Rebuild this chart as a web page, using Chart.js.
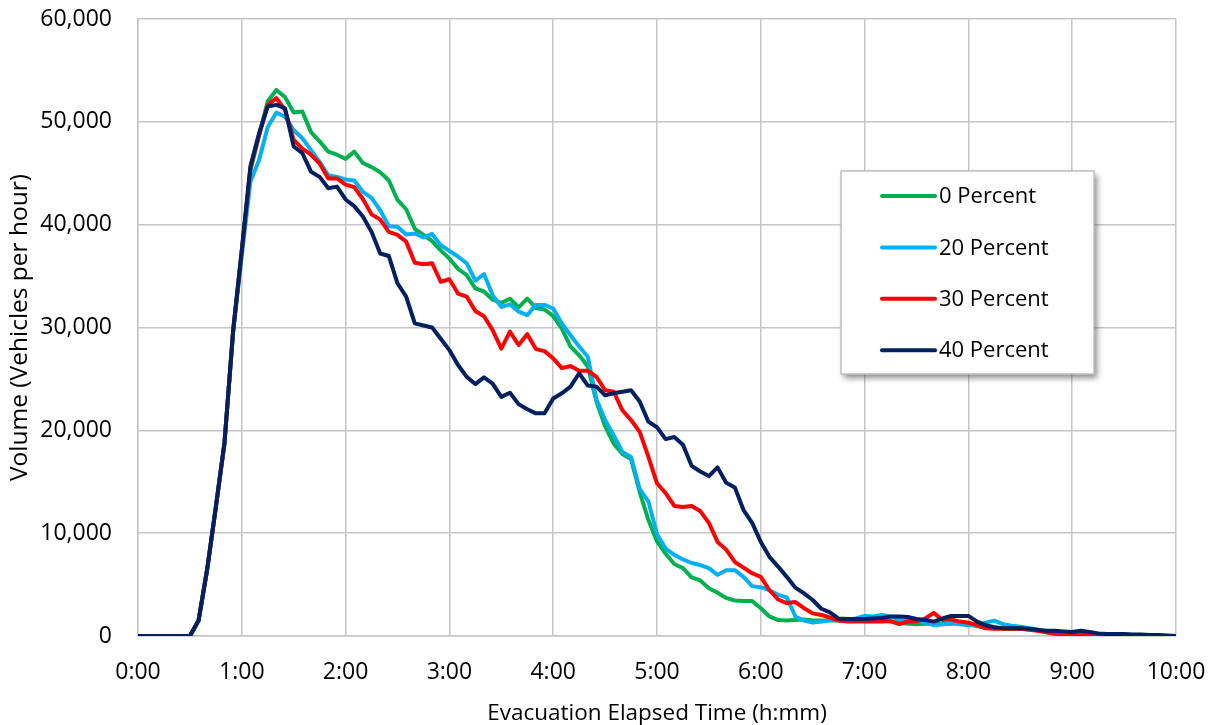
<!DOCTYPE html>
<html>
<head>
<meta charset="utf-8">
<title>Evacuation volume</title>
<script src="https://cdn.jsdelivr.net/npm/chart.js@4.4.1/dist/chart.umd.min.js"></script>
<style>
  html, body { margin: 0; padding: 0; background: #ffffff; }
  #wrap { width: 1211px; height: 725px; position: relative; }
</style>
</head>
<body>
<div id="wrap"><canvas id="grafico"></canvas></div>
<script>
// valores cada 5 minutos, una fila por hora (0:00 ... 9:55, 10:00)
var STEP_MIN = 5;

var seriesNames = ['0 Percent', '20 Percent', '30 Percent', '40 Percent'];
var seriesColors = ['#00B050', '#00B0F0', '#FF0000', '#002060'];

var pct0 = [
  0, 0, 0, 0, 0, 0, 0, 1500, 6500, 12500, 18800, 29700,
  37500, 45300, 48700, 52000, 53100, 52400, 50900, 51000, 49000, 48100, 47100, 46800,
  46400, 47100, 46000, 45600, 45100, 44300, 42400, 41500, 39600, 39000, 38400, 37500,
  36700, 35700, 35100, 33800, 33500, 32700, 32400, 32800, 31950, 32800, 31900, 31750,
  31100, 29900, 28150, 27300, 26200, 22800, 20400, 18700, 17700, 17200, 14000, 11300,
  9200, 8000, 7000, 6600, 5700, 5400, 4650, 4200, 3700, 3450, 3400, 3400,
  2700, 1900, 1550, 1500, 1550, 1600, 1500, 1500, 1500, 1500, 1450, 1500,
  1500, 1550, 1500, 1400, 1300, 1200, 1150, 1200, 1200, 1150, 1200, 1300,
  1200, 950, 850, 800, 750, 700, 700, 650, 550, 400, 300, 200,
  100, 50
];

var pct20 = [
  0, 0, 0, 0, 0, 0, 0, 1500, 6500, 12500, 18800, 29500,
  37000, 44200, 46300, 49500, 50900, 50500, 49200, 48400, 47250, 46100, 44800, 44650,
  44400, 44300, 43200, 42600, 41400, 39850, 39800, 39050, 39150, 38750, 39100, 38000,
  37450, 36900, 36250, 34550, 35200, 33150, 32000, 32250, 31550, 31200, 32200, 32200,
  31850, 30400, 29250, 28150, 27150, 23000, 21000, 19500, 17900, 17400, 14300, 13100,
  9900, 8500, 7900, 7450, 7100, 6900, 6600, 5950, 6400, 6400, 5750, 4850,
  4750, 4450, 4000, 3750, 1900, 1500, 1300, 1400, 1550, 1600, 1600, 1700,
  1950, 1900, 2050, 1900, 1600, 1500, 1400, 1300, 1050, 1150, 1250, 1150,
  1050, 1050, 1300, 1500, 1150, 1000, 900, 750, 600, 400, 200, 100,
  0
];

var pct30 = [
  0, 0, 0, 0, 0, 0, 0, 1500, 6500, 12500, 18800, 29700,
  37500, 45500, 48700, 51650, 52300, 51150, 48250, 47400, 46800, 45950, 44500, 44500,
  43900, 43650, 42500, 41000, 40500, 39300, 39000, 38350, 36300, 36150, 36250, 34450,
  34700, 33300, 33000, 31600, 31100, 29750, 27950, 29600, 28300, 29350, 27900, 27700,
  27000, 26050, 26250, 25800, 25800, 25200, 23900, 23750, 21950, 21000, 19850, 17450,
  14850, 13900, 12650, 12550, 12650, 12150, 11000, 9150, 8400, 7200, 6650, 6100,
  5750, 4450, 3550, 3200, 3300, 2700, 2200, 2050, 1800, 1500, 1400, 1400,
  1400, 1400, 1400, 1450, 1150, 1400, 1400, 1700, 2250, 1550, 1600, 1400,
  1300, 1050, 750, 700, 700, 700, 700, 600, 500, 350, 250, 150,
  100, 150, 150, 100, 50, 50, 0
];

var pct40 = [
  0, 0, 0, 0, 0, 0, 0, 1500, 6500, 12600, 18800, 29700,
  37500, 45700, 48900, 51500, 51650, 51300, 47600, 46950, 45150, 44650, 43550, 43700,
  42450, 41800, 40800, 39300, 37200, 36950, 34300, 33000, 30400, 30200, 30000, 28900,
  27800, 26350, 25200, 24500, 25150, 24550, 23250, 23650, 22550, 22050, 21650, 21650,
  23100, 23600, 24250, 25550, 24350, 24250, 23400, 23600, 23750, 23900, 22800, 20850,
  20300, 19150, 19350, 18600, 16550, 16000, 15550, 16400, 14900, 14450, 12250, 11000,
  9150, 7700, 6750, 5750, 4700, 4150, 3500, 2650, 2300, 1700, 1650, 1650,
  1650, 1700, 1750, 1900, 1900, 1850, 1650, 1550, 1400, 1700, 1950, 1950,
  1950, 1400, 1050, 850, 750, 750, 750, 700, 600, 500, 500, 450,
  400, 500, 400, 250, 200, 200, 200, 150, 150, 100, 100, 50,
  0
];

var allSeries = [pct0, pct20, pct30, pct40];

var xTicksMin = [0, 60, 120, 180, 240, 300, 360, 420, 480, 540, 600];
var yTicks = [0, 10000, 20000, 30000, 40000, 50000, 60000];

var fuente = "'Open Sans', 'Liberation Sans', sans-serif";
var gris = '#C6C6C6';

function hmm(min) {
  var h = Math.floor(min / 60);
  var m = min % 60;
  return h + ':' + (m < 10 ? '0' : '') + m;
}

// leyenda dentro del area del grafico, con sombra
var leyendaPlugin = {
  id: 'leyendaCaja',
  afterDraw: function (chart) {
    var ctx = chart.ctx;
    var x = 841, y = 171, w = 253, h = 203;
    ctx.save();
    ctx.shadowColor = 'rgba(0,0,0,0.45)';
    ctx.shadowBlur = 6;
    ctx.shadowOffsetX = 3;
    ctx.shadowOffsetY = 4;
    ctx.fillStyle = '#ffffff';
    ctx.fillRect(x, y, w, h);
    ctx.restore();

    ctx.save();
    ctx.strokeStyle = '#BFBFBF';
    ctx.lineWidth = 1.5;
    ctx.strokeRect(x, y, w, h);
    ctx.font = '22px ' + fuente;
    ctx.textBaseline = 'middle';
    ctx.fillStyle = '#000000';
    chart.data.datasets.forEach(function (ds, i) {
      var yy = 196 + i * 51.4;
      ctx.strokeStyle = ds.borderColor;
      ctx.lineWidth = 4;
      ctx.lineCap = 'round';
      ctx.beginPath();
      ctx.moveTo(882, yy);
      ctx.lineTo(935, yy);
      ctx.stroke();
      ctx.fillText(ds.label, 939, yy + 1);
    });
    ctx.restore();
  }
};

function crearGrafico() {
  var ctx = document.getElementById('grafico').getContext('2d');

  var datasets = allSeries.map(function (serie, k) {
    return {
      label: seriesNames[k],
      data: serie.map(function (v, i) { return { x: i * STEP_MIN, y: v }; }),
      borderColor: seriesColors[k],
      backgroundColor: seriesColors[k],
      borderWidth: 4,
      pointRadius: 0,
      tension: 0,
      fill: false,
      order: allSeries.length - k,
      borderJoinStyle: 'round'
    };
  });

  var myChart = new Chart(ctx, {
    type: 'line',
    data: { datasets: datasets },
    options: {
      responsive: false,
      animation: false,
      events: [],
      layout: { padding: { top: 19, right: 35, left: 0, bottom: 0 } },
      plugins: {
        legend: { display: false },
        tooltip: { enabled: false }
      },
      scales: {
        x: {
          type: 'linear',
          min: 0,
          max: 600,
          afterBuildTicks: function (scale) {
            scale.ticks = xTicksMin.map(function (v) { return { value: v }; });
          },
          afterFit: function (scale) {
            scale.height = 89;
            scale.paddingLeft = 0;
            scale.paddingRight = 0;
          },
          grid: { color: gris, lineWidth: 1.5, drawTicks: false },
          border: { color: gris, width: 1.5 },
          ticks: {
            padding: 23,
            maxRotation: 0,
            color: '#000000',
            font: { family: fuente, size: 23 },
            callback: function (v) { return hmm(v); }
          },
          title: {
            display: true,
            text: 'Evacuation Elapsed Time (h:mm)',
            color: '#000000',
            font: { family: fuente, size: 22.5, lineHeight: 1 },
            padding: { top: 0, bottom: 0 }
          }
        },
        y: {
          min: 0,
          max: 60000,
          afterBuildTicks: function (scale) {
            scale.ticks = yTicks.map(function (v) { return { value: v }; });
          },
          afterFit: function (scale) {
            scale.width = 138;
            scale.paddingTop = 0;
            scale.paddingBottom = 0;
          },
          grid: { color: gris, lineWidth: 1.5, drawTicks: false },
          border: { color: gris, width: 1.5 },
          ticks: {
            padding: 26,
            color: '#000000',
            font: { family: fuente, size: 23 },
            callback: function (v) { return v.toLocaleString('en-US'); }
          },
          title: {
            display: true,
            text: 'Volume (Vehicles per hour)',
            color: '#000000',
            font: { family: fuente, size: 24.5, lineHeight: 1 },
            padding: { top: 8, bottom: 0 }
          }
        }
      }
    },
    plugins: [leyendaPlugin]
  });
}

var cv = document.getElementById('grafico');
cv.width = 1211;
cv.height = 725;
crearGrafico();
</script>
</body>
</html>
